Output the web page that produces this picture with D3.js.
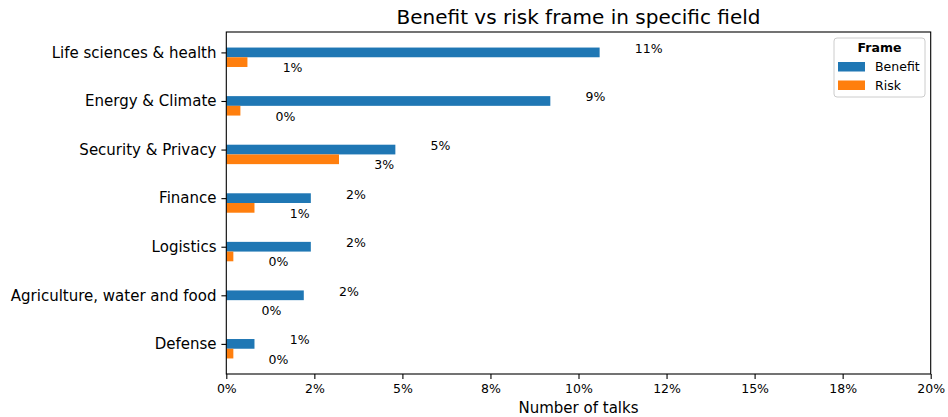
<!DOCTYPE html>
<html>
<head>
<meta charset="utf-8">
<script src="https://cdn.jsdelivr.net/npm/d3@7"></script>
<style>
  body { margin: 0; background: #fff; }
  svg { display: block; font-family: "DejaVu Sans", sans-serif; }
  .axis path, .axis line { stroke: #000; stroke-width: 1.1; }
  .axis text { fill: #000; font-family: "DejaVu Sans", sans-serif; }
</style>
</head>
<body>
<svg id="chart" width="948" height="417"></svg>
<script>
// data (share of talks, %)
const fields = ['Life sciences & health', 'Energy & Climate', 'Security & Privacy',
  'Finance', 'Logistics', 'Agriculture, water and food', 'Defense'];
const benefit = [10.6, 9.2, 4.8, 2.4, 2.4, 2.2, 0.8];
const risk = [0.6, 0.4, 3.2, 0.8, 0.2, 0, 0.2];
const frames = ['Benefit', 'Risk'];
const frameColors = ['#1f77b4', '#ff7f0e'];
const xTicks = [0, 2.5, 5, 7.5, 10, 12.5, 15, 17.5, 20];
const xTickLabels = ['0%', '2%', '5%', '8%', '10%', '12%', '15%', '18%', '20%'];

const svg = d3.select('#chart');
const plotLeft = 226.3, plotRight = 930.7, plotTop = 32, plotBottom = 374;
const barH = 0.2; // bar thickness in category units

const x = d3.scaleLinear().domain([0, 20]).range([plotLeft, plotRight]);
// matplotlib-style 5% margins around bars spanning -0.1 .. 6.3
const y = d3.scaleLinear().domain([-0.42, 6.62]).range([plotTop, plotBottom]);

const series = [benefit, risk];
const rows = [];
series.forEach((vals, s) => {
  vals.forEach((v, i) => rows.push({ s, i, v }));
});

// bars
svg.append('g').selectAll('rect')
  .data(rows)
  .enter().append('rect')
  .attr('x', x(0))
  .attr('y', d => y(d.i - barH / 2 + d.s * barH))
  .attr('width', d => x(d.v) - x(0))
  .attr('height', d => y(barH) - y(0))
  .attr('fill', d => frameColors[d.s]);

// value labels, one unit right of the bar end
const fmt = v => `${Math.round(v)}%`;
svg.append('g').selectAll('text')
  .data(rows)
  .enter().append('text')
  .attr('x', d => x(d.v + 1))
  .attr('y', d => d.s === 0 ? y(d.i) + 0.5 : y(d.i + barH) + 10)
  .attr('font-size', 12.5)
  .attr('fill', '#000')
  .text(d => fmt(d.v));

// axes
const xAxis = d3.axisBottom(x)
  .tickValues(xTicks)
  .tickFormat((d, i) => xTickLabels[i])
  .tickSize(4.9).tickPadding(4.9);
svg.append('g').attr('class', 'axis')
  .attr('transform', `translate(0,${plotBottom})`)
  .call(xAxis)
  .call(g => g.select('.domain').remove())
  .selectAll('text').attr('font-size', 12.5);

const yAxis = d3.axisLeft(y)
  .tickValues(d3.range(fields.length))
  .tickFormat(i => fields[i])
  .tickSize(4.9).tickPadding(4.9);
svg.append('g').attr('class', 'axis')
  .attr('transform', `translate(${plotLeft},0)`)
  .call(yAxis)
  .call(g => g.select('.domain').remove())
  .selectAll('text').attr('font-size', 15);

// frame (spines)
svg.append('rect')
  .attr('x', plotLeft).attr('y', plotTop)
  .attr('width', plotRight - plotLeft).attr('height', plotBottom - plotTop)
  .attr('fill', 'none').attr('stroke', '#000').attr('stroke-width', 1.1);

// title and axis label
svg.append('text')
  .attr('x', (plotLeft + plotRight) / 2).attr('y', 23.5)
  .attr('text-anchor', 'middle').attr('font-size', 20)
  .text('Benefit vs risk frame in specific field');

svg.append('text')
  .attr('x', (plotLeft + plotRight) / 2).attr('y', 413)
  .attr('text-anchor', 'middle').attr('font-size', 15)
  .text('Number of talks');

// legend
const legend = svg.append('g').attr('transform', 'translate(834,38)');
legend.append('rect')
  .attr('width', 91).attr('height', 59).attr('rx', 3)
  .attr('fill', '#fff').attr('fill-opacity', 0.8)
  .attr('stroke', '#ccc').attr('stroke-width', 1);
legend.append('text')
  .attr('x', 45.5).attr('y', 14)
  .attr('text-anchor', 'middle').attr('font-size', 12.5).attr('font-weight', 'bold')
  .text('Frame');
const item = legend.selectAll('.item')
  .data(frames)
  .enter().append('g')
  .attr('class', 'item')
  .attr('transform', (d, i) => `translate(4,${24 + i * 18.5})`);
item.append('rect')
  .attr('width', 27).attr('height', 9.5)
  .attr('fill', (d, i) => frameColors[i]);
item.append('text')
  .attr('x', 37).attr('y', 9)
  .attr('font-size', 12.5)
  .text(d => d);
</script>
</body>
</html>
